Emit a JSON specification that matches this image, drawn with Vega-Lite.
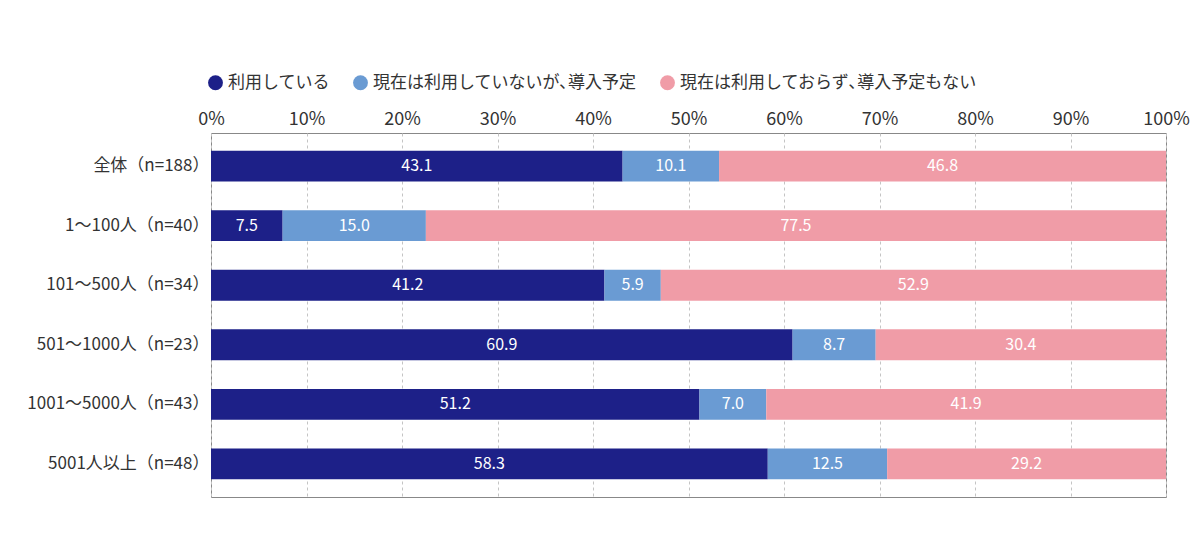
{
  "$schema": "https://vega.github.io/schema/vega-lite/v6.json",
  "width": 955,
  "height": 364,
  "autosize": {"type": "none"},
  "padding": {"left": 211, "top": 133, "right": 34, "bottom": 59},
  "background": "white",
  "config": {
    "font": "Noto Sans CJK JP",
    "view": {"stroke": "#888888", "strokeWidth": 1},
    "axis": {"labelFont": "Noto Sans CJK JP", "labelColor": "#333333"}
  },
  "data": {
    "values": [
      {"group": "全体（n=188）", "answer": "利用している", "k": 1, "pct": 43.1},
      {"group": "全体（n=188）", "answer": "現在は利用していないが､導入予定", "k": 2, "pct": 10.1},
      {"group": "全体（n=188）", "answer": "現在は利用しておらず､導入予定もない", "k": 3, "pct": 46.8},
      {"group": "1～100人（n=40）", "answer": "利用している", "k": 1, "pct": 7.5},
      {"group": "1～100人（n=40）", "answer": "現在は利用していないが､導入予定", "k": 2, "pct": 15.0},
      {"group": "1～100人（n=40）", "answer": "現在は利用しておらず､導入予定もない", "k": 3, "pct": 77.5},
      {"group": "101～500人（n=34）", "answer": "利用している", "k": 1, "pct": 41.2},
      {"group": "101～500人（n=34）", "answer": "現在は利用していないが､導入予定", "k": 2, "pct": 5.9},
      {"group": "101～500人（n=34）", "answer": "現在は利用しておらず､導入予定もない", "k": 3, "pct": 52.9},
      {"group": "501～1000人（n=23）", "answer": "利用している", "k": 1, "pct": 60.9},
      {"group": "501～1000人（n=23）", "answer": "現在は利用していないが､導入予定", "k": 2, "pct": 8.7},
      {"group": "501～1000人（n=23）", "answer": "現在は利用しておらず､導入予定もない", "k": 3, "pct": 30.4},
      {"group": "1001～5000人（n=43）", "answer": "利用している", "k": 1, "pct": 51.2},
      {"group": "1001～5000人（n=43）", "answer": "現在は利用していないが､導入予定", "k": 2, "pct": 7.0},
      {"group": "1001～5000人（n=43）", "answer": "現在は利用しておらず､導入予定もない", "k": 3, "pct": 41.9},
      {"group": "5001人以上（n=48）", "answer": "利用している", "k": 1, "pct": 58.3},
      {"group": "5001人以上（n=48）", "answer": "現在は利用していないが､導入予定", "k": 2, "pct": 12.5},
      {"group": "5001人以上（n=48）", "answer": "現在は利用しておらず､導入予定もない", "k": 3, "pct": 29.2}
    ]
  },
  "encoding": {
    "y": {
      "field": "group",
      "type": "nominal",
      "sort": null,
      "title": null,
      "scale": {"paddingInner": 0.483, "paddingOuter": 0.3},
      "axis": {"domain": false, "ticks": false, "labelFontSize": 17, "labelPadding": 2, "labelLimit": 300}
    }
  },
  "layer": [
    {
      "mark": {"type": "bar"},
      "encoding": {
        "x": {
          "field": "pct",
          "type": "quantitative",
          "stack": "normalize",
          "title": null,
          "scale": {"domain": [0, 1], "nice": false},
          "axis": {
            "orient": "top",
            "format": "%",
            "values": [0, 0.1, 0.2, 0.3, 0.4, 0.5, 0.6, 0.7, 0.8, 0.9, 1],
            "domain": false,
            "ticks": false,
            "labelFontSize": 18,
            "labelPadding": 5,
            "grid": true,
            "gridDash": [3, 3],
            "gridColor": "#c4c4c4",
            "labelFlush": false
          }
        },
        "color": {
          "field": "answer",
          "type": "nominal",
          "sort": ["利用している", "現在は利用していないが､導入予定", "現在は利用しておらず､導入予定もない"],
          "scale": {
            "domain": ["利用している", "現在は利用していないが､導入予定", "現在は利用しておらず､導入予定もない"],
            "range": ["#1d2088", "#6a9bd3", "#f09ca7"]
          },
          "legend": {
            "title": null,
            "orient": "none",
            "direction": "horizontal",
            "legendX": -4,
            "legendY": -59,
            "symbolType": "circle",
            "symbolSize": 220,
            "symbolOpacity": 1,
            "labelFontSize": 17,
            "labelColor": "#333333",
            "labelLimit": 400,
            "columnPadding": 22
          }
        },
        "order": {"field": "k"}
      }
    },
    {
      "mark": {"type": "text", "color": "white", "fontSize": 16},
      "encoding": {
        "x": {"field": "pct", "type": "quantitative", "stack": "normalize", "bandPosition": 0.5},
        "detail": {"field": "answer"},
        "order": {"field": "k"},
        "text": {"field": "pct", "type": "quantitative", "format": ".1f"}
      }
    }
  ]
}
